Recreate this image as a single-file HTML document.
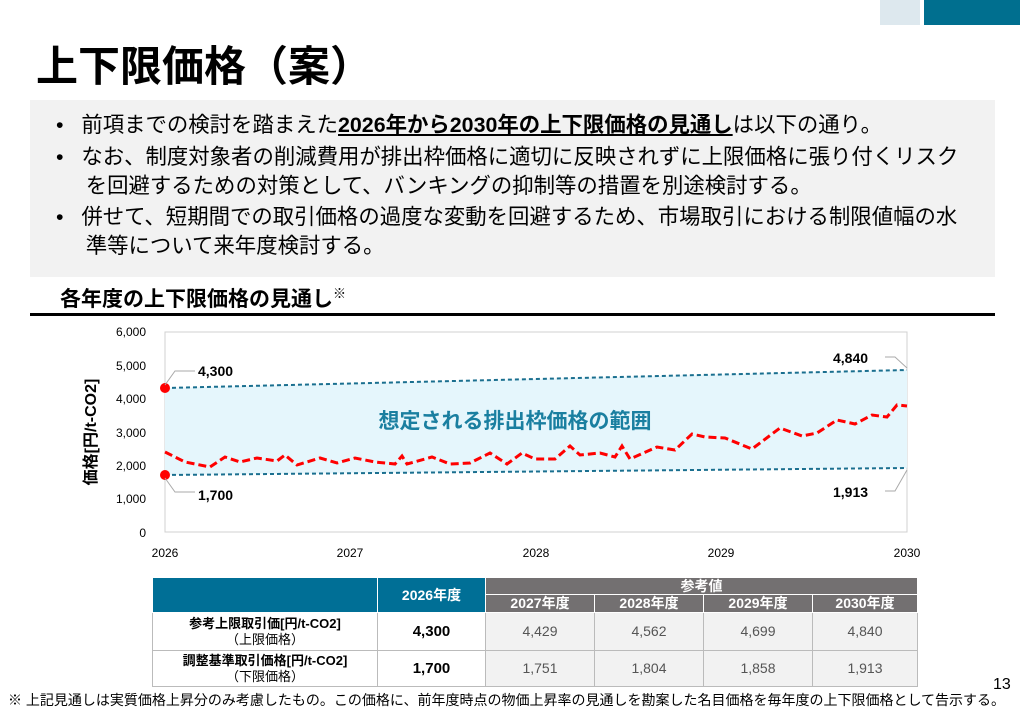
<!DOCTYPE html><html><head><meta charset="utf-8"><style>
body{margin:0;width:1020px;height:713px;background:#fff;position:relative;overflow:hidden;font-family:"Liberation Sans","Noto Sans CJK JP",sans-serif;color:#000}
.a{position:absolute;white-space:nowrap}
.box{position:absolute;left:30px;top:100px;width:965px;height:177px;background:#f2f2f2}
.li{position:absolute;left:56px;font-size:21.4px;line-height:29px}
.li b{text-decoration:underline}
table{position:absolute;left:152px;top:577px;border-collapse:collapse;font-size:14px;table-layout:fixed}
td{border:1px solid #bbb;text-align:center;padding:0;line-height:15px;overflow:hidden}
</style></head><body>
<div class="a" style="left:924px;top:0;width:96px;height:25px;background:#006f8f"></div>
<div class="a" style="left:880px;top:0;width:40px;height:25px;background:#dde8ee"></div>
<div class="a" style="left:36px;top:33px;font-size:42px;font-weight:bold">上下限価格（案）</div>
<div class="box"></div>
<div class="li" style="top:111px">•&nbsp;&nbsp;&nbsp;前項までの検討を踏まえた<b>2026年から2030年の上下限価格の見通し</b>は以下の通り。</div>
<div class="li" style="top:143px">•&nbsp;&nbsp;&nbsp;なお、制度対象者の削減費用が排出枠価格に適切に反映されずに上限価格に張り付くリスク<br>&nbsp;&nbsp;&nbsp;&nbsp;&nbsp;を回避するための対策として、バンキングの抑制等の措置を別途検討する。</div>
<div class="li" style="top:203px">•&nbsp;&nbsp;&nbsp;併せて、短期間での取引価格の過度な変動を回避するため、市場取引における制限値幅の水<br>&nbsp;&nbsp;&nbsp;&nbsp;&nbsp;準等について来年度検討する。</div>
<div class="a" style="left:60px;top:283px;font-size:21px;font-weight:bold">各年度の上下限価格の見通し<sup style="font-size:13px">※</sup></div>
<div class="a" style="left:30px;top:313px;width:965px;height:3px;background:#000"></div>
<svg class="a" style="left:0;top:0" width="1020" height="713">
<rect x="165" y="332" width="742" height="200" fill="#fff" stroke="#d0d0d0"/>
<polygon points="165,388 907,370 907,468 165,475" fill="#e5f6fc"/>
<line x1="165" y1="388" x2="907" y2="370" stroke="#1a6f8f" stroke-width="2" stroke-dasharray="4,3"/>
<line x1="165" y1="475" x2="907" y2="468" stroke="#1a6f8f" stroke-width="2" stroke-dasharray="4,3"/>
<polyline fill="none" stroke="#f00" stroke-width="3" stroke-dasharray="8,4" points="165,452 185,462 210,467 225,457 240,462 257,458 277,461 285,455 297,465 320,458 337,463 355,458 375,462 395,464 402,456 407,464 432,457 450,464 470,463 490,453 507,464 522,453 535,459 555,459 570,446 580,455 600,453 615,457 622,446 630,459 657,447 675,450 692,434 705,437 725,438 752,449 780,428 802,436 817,433 837,420 855,424 872,415 887,417 897,405 907,406"/>
<circle cx="165" cy="388" r="5" fill="#f00"/><circle cx="165" cy="475" r="5" fill="#f00"/>
<g stroke="#aaa" fill="none"><polyline points="165,385 175,371 195,371"/><polyline points="165,478 175,492 195,492"/><polyline points="885,357 895,357 907,368"/><polyline points="885,491 895,491 907,470"/></g>
<g font-size="14" font-weight="bold"><text x="198" y="376">4,300</text><text x="198" y="500">1,700</text><text x="833" y="363">4,840</text><text x="833" y="497">1,913</text></g>
<g font-size="12" text-anchor="end"><text x="146" y="336">6,000</text><text x="146" y="370">5,000</text><text x="146" y="403">4,000</text><text x="146" y="437">3,000</text><text x="146" y="470">2,000</text><text x="146" y="503">1,000</text><text x="146" y="537">0</text></g>
<g font-size="12" text-anchor="middle"><text x="165" y="557">2026</text><text x="350" y="557">2027</text><text x="536" y="557">2028</text><text x="721" y="557">2029</text><text x="907" y="557">2030</text></g>
<text x="515" y="428" font-size="21" font-weight="bold" fill="#1a7fa0" text-anchor="middle">想定される排出枠価格の範囲</text>
<text transform="translate(96,432) rotate(-90)" font-size="16" font-weight="bold" text-anchor="middle">価格[円/t-CO2]</text>
</svg>
<table>
<colgroup><col style="width:225px"><col style="width:108px"><col style="width:109px"><col style="width:109px"><col style="width:109px"><col style="width:105px"></colgroup>
<tr style="height:17px"><td rowspan="2" style="background:#006f96;border-color:#fff"></td><td rowspan="2" style="background:#006f96;color:#fff;font-weight:bold;border-color:#fff">2026年度</td><td colspan="4" style="background:#737071;color:#fff;font-weight:bold;border-color:#fff">参考値</td></tr>
<tr style="height:18px;background:#737071;color:#fff;font-weight:bold"><td style="border-color:#fff">2027年度</td><td style="border-color:#fff">2028年度</td><td style="border-color:#fff">2029年度</td><td style="border-color:#fff">2030年度</td></tr>
<tr style="height:38px"><td style="font-size:13px;font-weight:bold;line-height:16px">参考上限取引価[円/t-CO2]<br><span style="font-weight:normal">（上限価格）</span></td><td style="font-weight:bold;font-size:15px">4,300</td><td style="background:#f2f2f2;color:#555">4,429</td><td style="background:#f2f2f2;color:#555">4,562</td><td style="background:#f2f2f2;color:#555">4,699</td><td style="background:#f2f2f2;color:#555">4,840</td></tr>
<tr style="height:36px"><td style="font-size:13px;font-weight:bold;line-height:16px">調整基準取引価格[円/t-CO2]<br><span style="font-weight:normal">（下限価格）</span></td><td style="font-weight:bold;font-size:15px">1,700</td><td style="background:#f2f2f2;color:#555">1,751</td><td style="background:#f2f2f2;color:#555">1,804</td><td style="background:#f2f2f2;color:#555">1,858</td><td style="background:#f2f2f2;color:#555">1,913</td></tr>
</table>
<div class="a" style="left:8px;top:690px;font-size:14px">※ 上記見通しは実質価格上昇分のみ考慮したもの。この価格に、前年度時点の物価上昇率の見通しを勘案した名目価格を毎年度の上下限価格として告示する。</div>
<div class="a" style="left:993px;top:676px;font-size:16px">13</div>
</body></html>
